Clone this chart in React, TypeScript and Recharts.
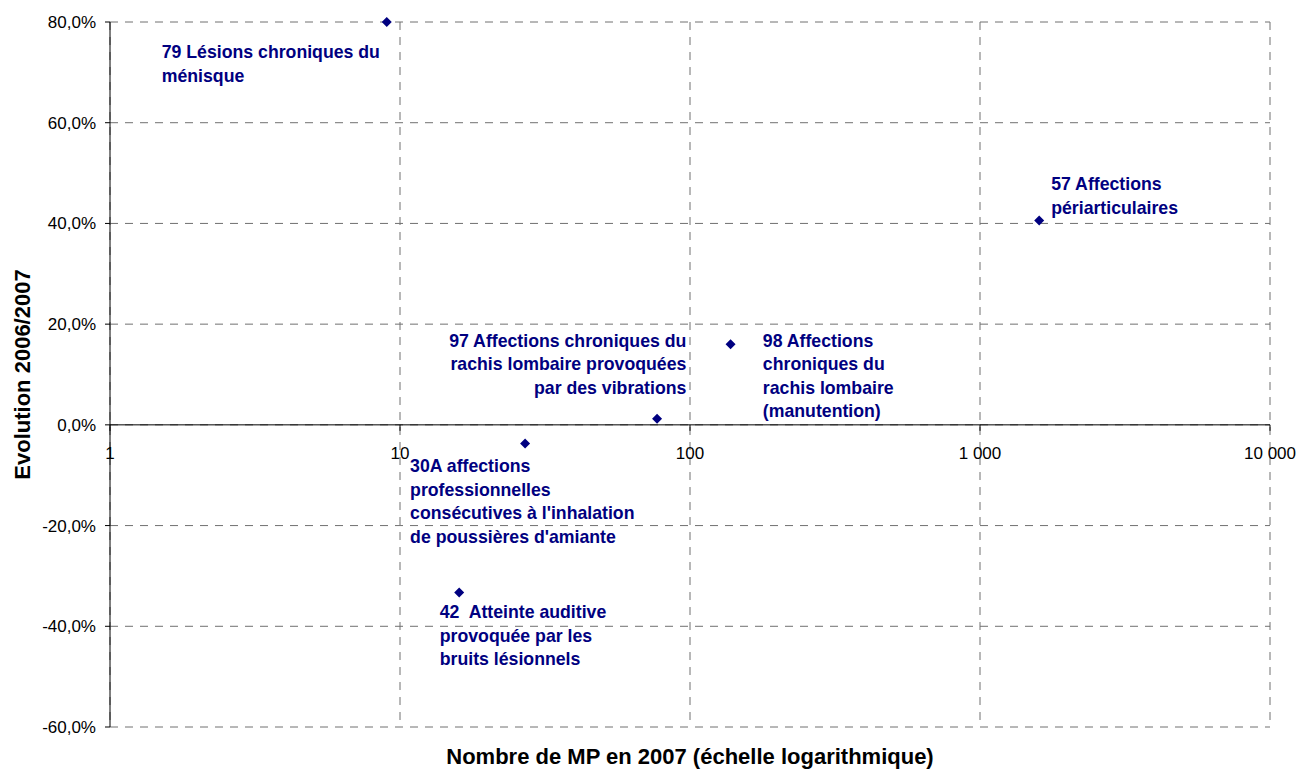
import React from 'react';
import { ScatterChart, Scatter, XAxis, YAxis, CartesianGrid, ReferenceLine } from 'recharts';

// ---- data ----
const codes = ['79', '57', '97', '98', '30A', '42'];
const counts2007 = [9, 1600, 77, 138, 27, 16];
const evolutions = [0.8, 0.406, 0.012, 0.16, -0.037, -0.333];
const labelTexts: string[][] = [
  ['79 Lésions chroniques du', 'ménisque'],
  ['57 Affections', 'périarticulaires'],
  ['97 Affections chroniques du', 'rachis lombaire provoquées', 'par des vibrations'],
  ['98 Affections', 'chroniques du', 'rachis lombaire', '(manutention)'],
  ['30A affections', 'professionnelles', "consécutives à l'inhalation", "de poussières d'amiante"],
  ['42  Atteinte auditive', 'provoquée par les', 'bruits lésionnels'],
];
const xTicks = [1, 10, 100, 1000, 10000];
const xTickLabels = ['1', '10', '100', '1 000', '10 000'];
const yTicks = [-0.6, -0.4, -0.2, 0, 0.2, 0.4, 0.6, 0.8];
const xTitle = 'Nombre de MP en 2007 (échelle logarithmique)';
const yTitle = 'Evolution 2006/2007';

// ---- layout / style ----
const W = 1301;
const H = 772;
const X_AXIS_H = 45;
const M = { top: 22, right: 31, bottom: 0, left: 0 };
const Y_AXIS_W = 110;
const Y_MIN = -0.6;
const Y_MAX = 0.8;
const PLOT_H = H - M.top - M.bottom - X_AXIS_H;
const ZERO_Y = M.top + PLOT_H * (Y_MAX / (Y_MAX - Y_MIN));
const FONT = '"Liberation Sans", Arial, Helvetica, sans-serif';
const NAVY = '#000080';
const LABEL_SIZE = 17.7;
const LINE_H = 23.5;

const labelLayout = [
  { dx: -225, dy: 36.3, anchor: 'start' },
  { dx: 12, dy: -30.3, anchor: 'start' },
  { dx: 29.3, dy: -72.3, anchor: 'end' },
  { dx: 32.3, dy: 2.4, anchor: 'start' },
  { dx: -115, dy: 28.6, anchor: 'start' },
  { dx: -19.4, dy: 25.6, anchor: 'start' },
];

const data = codes.map((c, i) => ({ code: c, x: counts2007[i], y: evolutions[i], idx: i }));

const fmtPct = (v: number) => (v * 100).toFixed(1).replace('.', ',') + '%';

const XTick = (props: any) => {
  const { x, payload } = props;
  const i = xTicks.indexOf(payload.value);
  return (
    <g>
      <line x1={x} x2={x} y1={ZERO_Y} y2={ZERO_Y + 6} stroke="#000" strokeWidth={1} />
      <text x={x} y={ZERO_Y + 34} textAnchor="middle" fontSize={17} fontFamily={FONT} fill="#000">
        {i >= 0 ? xTickLabels[i] : String(payload.value)}
      </text>
    </g>
  );
};

const PointShape = (props: any) => {
  const { cx, cy, payload } = props;
  if (cx == null || cy == null) return null;
  const i = payload.idx;
  const lay = labelLayout[i];
  const lines = labelTexts[i];
  const r = 5;
  return (
    <g>
      <polygon
        points={`${cx},${cy - r} ${cx + r},${cy} ${cx},${cy + r} ${cx - r},${cy}`}
        fill={NAVY}
      />
      <text
        x={cx + lay.dx}
        y={cy + lay.dy}
        textAnchor={lay.anchor as any}
        fontSize={LABEL_SIZE}
        fontWeight="bold"
        fontFamily={FONT}
        fill={NAVY}
        style={{ whiteSpace: 'pre' }}
      >
        {lines.map((l, k) => (
          <tspan key={k} x={cx + lay.dx} dy={k === 0 ? 0 : LINE_H}>
            {l}
          </tspan>
        ))}
      </text>
    </g>
  );
};

const YTitle = (props: any) => {
  const vb = props.viewBox || { x: 0, y: M.top, width: Y_AXIS_W, height: PLOT_H };
  const cy = vb.y + vb.height / 2;
  return (
    <text
      x={30}
      y={cy}
      transform={`rotate(-90, 30, ${cy})`}
      textAnchor="middle"
      fontSize={22}
      fontWeight="bold"
      fontFamily={FONT}
      fill="#000"
    >
      {yTitle}
    </text>
  );
};

const XTitle = (props: any) => {
  const vb = props.viewBox || { x: Y_AXIS_W, y: H - X_AXIS_H, width: W - Y_AXIS_W - M.right, height: X_AXIS_H };
  const cx = vb.x + vb.width / 2;
  return (
    <text x={cx} y={764} textAnchor="middle" fontSize={22} fontWeight="bold" fontFamily={FONT} fill="#000">
      {xTitle}
    </text>
  );
};

export default function App() {
  return (
    <div style={{ width: W, height: H, background: '#fff' }}>
      <style>{`body{margin:0;background:#fff}`}</style>
      <ScatterChart width={W} height={H} margin={M}>
        <CartesianGrid stroke="#707070" strokeDasharray="8 7" strokeWidth={1} />
        <XAxis
          type="number"
          dataKey="x"
          scale="log"
          domain={[1, 10000]}
          ticks={xTicks}
          height={X_AXIS_H}
          axisLine={false}
          tickLine={false}
          tick={<XTick />}
          interval={0}
          label={<XTitle />}
        />
        <YAxis
          type="number"
          dataKey="y"
          domain={[Y_MIN, Y_MAX]}
          ticks={yTicks}
          width={Y_AXIS_W}
          interval={0}
          tickFormatter={fmtPct}
          axisLine={{ stroke: '#000', strokeWidth: 1 }}
          tickLine={{ stroke: '#000', strokeWidth: 1 }}
          tickSize={5}
          tickMargin={9}
          tick={{ fontSize: 17, fontFamily: FONT, fill: '#000' }}
          label={<YTitle />}
        />
        <ReferenceLine y={0} stroke="#000" strokeWidth={1} />
        <Scatter data={data} shape={<PointShape />} isAnimationActive={false} />
      </ScatterChart>
    </div>
  );
}
